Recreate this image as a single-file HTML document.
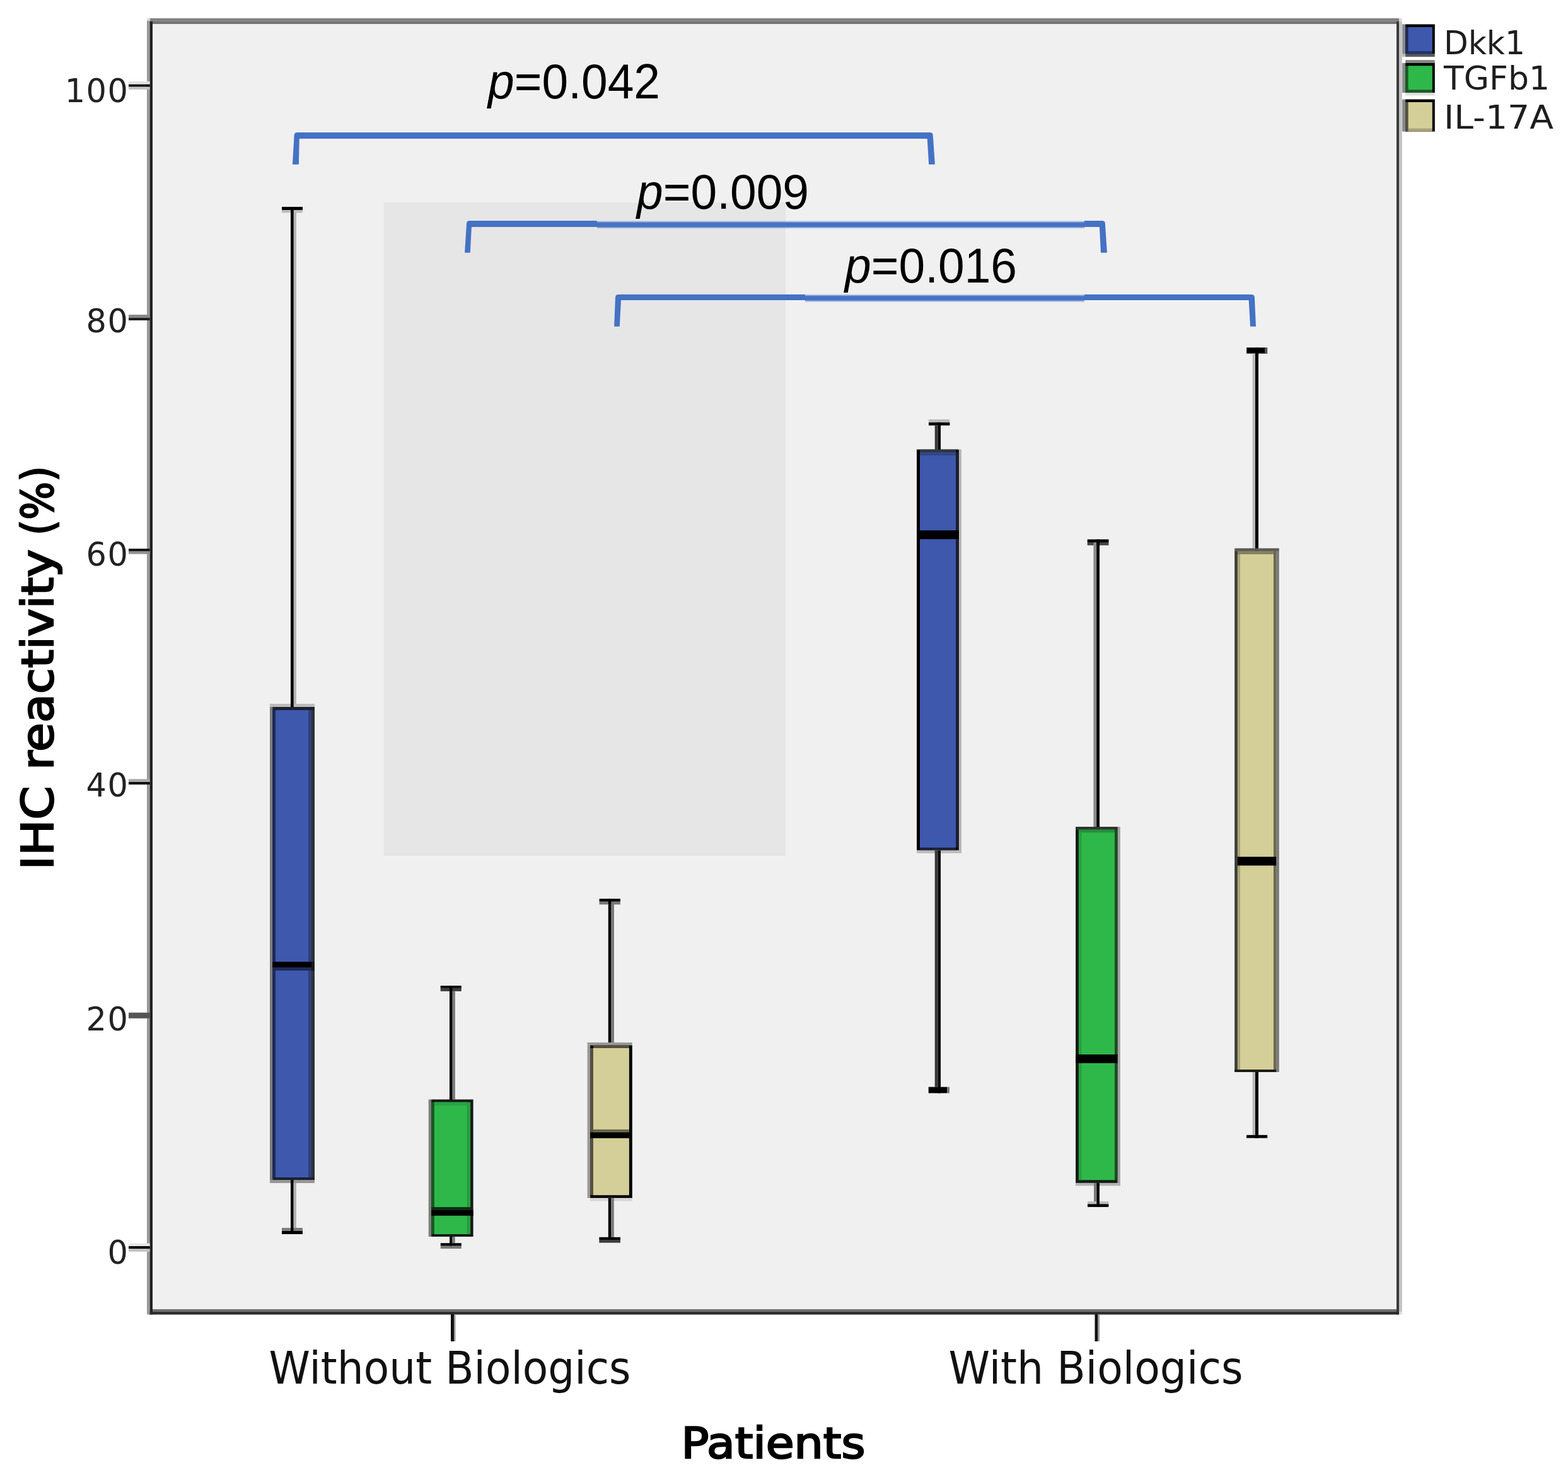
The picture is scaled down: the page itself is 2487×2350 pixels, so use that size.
<!DOCTYPE html>
<html><head><meta charset="utf-8"><title>IHC reactivity box plot</title>
<style>
html,body{margin:0;padding:0;background:#fff;}
body{width:2487px;height:2350px;overflow:hidden;}
svg{display:block;}
</style></head>
<body>
<svg width="2487" height="2350" viewBox="0 0 2487 2350">
<defs><filter id="bl" x="-1%" y="-50%" width="102%" height="200%"><feGaussianBlur stdDeviation="0 0.9"/></filter></defs>
<rect x="0" y="0" width="2487" height="2350" fill="#ffffff"/>
<rect x="242.0" y="38.0" width="1973.0" height="2038.0" fill="#f0f0f0"/>
<rect x="609.0" y="321.0" width="637.0" height="1036.0" fill="#e6e6e6"/>
<rect x="237.6" y="29.0" width="1981.4" height="4.8" fill="#828282"/>
<rect x="237.6" y="33.8" width="1981.4" height="4.2" fill="#747474"/>
<rect x="233.0" y="29.0" width="4.6" height="4.8" fill="#dcdcdc"/>
<rect x="2219.0" y="29.0" width="4.8" height="4.8" fill="#dcdcdc"/>
<rect x="233.0" y="33.0" width="4.6" height="2051.4" fill="#9a9a9a"/>
<rect x="237.6" y="33.8" width="4.4" height="2050.6" fill="#222222"/>
<rect x="2215.0" y="33.8" width="4.0" height="2050.6" fill="#3a3a3a"/>
<rect x="2219.0" y="33.8" width="4.8" height="2046.2" fill="#c2c2c2"/>
<rect x="2219.0" y="2080.0" width="4.8" height="4.4" fill="#dadada"/>
<rect x="242.0" y="2076.0" width="1973.0" height="4.1" fill="#707070"/>
<rect x="237.6" y="2080.1" width="1981.4" height="4.4" fill="#2a2a2a"/>
<rect x="204.0" y="129.0" width="33.6" height="4.8" fill="#e2e2e2"/>
<rect x="204.0" y="133.8" width="33.6" height="3.9" fill="#000"/>
<rect x="204.0" y="137.7" width="33.6" height="4.3" fill="#c4c4c4"/>
<rect x="204.0" y="499.0" width="33.6" height="5.0" fill="#888888"/>
<rect x="204.0" y="504.0" width="33.6" height="4.0" fill="#1e1e1e"/>
<rect x="204.0" y="870.0" width="33.6" height="4.0" fill="#161616"/>
<rect x="204.0" y="874.0" width="33.6" height="4.5" fill="#909090"/>
<rect x="204.0" y="1235.3" width="33.6" height="4.7" fill="#aaaaaa"/>
<rect x="204.0" y="1240.0" width="33.6" height="4.0" fill="#080808"/>
<rect x="204.0" y="1605.7" width="33.6" height="9.1" fill="#555555"/>
<rect x="204.0" y="1971.5" width="33.6" height="4.5" fill="#e6e6e6"/>
<rect x="204.0" y="1976.0" width="33.6" height="4.3" fill="#000"/>
<rect x="204.0" y="1980.3" width="33.6" height="4.4" fill="#c2c2c2"/>
<rect x="715.0" y="2084.0" width="5.0" height="43.0" fill="#111111"/>
<rect x="720.0" y="2084.0" width="2.5" height="43.0" fill="#9a9a9a"/>
<rect x="1736.5" y="2084.0" width="5.0" height="43.0" fill="#111111"/>
<rect x="1741.5" y="2084.0" width="2.5" height="43.0" fill="#9a9a9a"/>
<rect x="428.0" y="1116.0" width="71.0" height="5.0" fill="#bcbcbc"/>
<rect x="465.7" y="337.0" width="4.3" height="779.0" fill="#b5b5b5"/>
<rect x="447.0" y="333.0" width="33.0" height="4.4" fill="#bdbdbd"/>
<rect x="461.0" y="333.0" width="4.7" height="788.0" fill="#000"/>
<rect x="447.0" y="328.0" width="33.0" height="5.0" fill="#000"/>
<rect x="428.0" y="1121.0" width="4.2" height="750.0" fill="#7c7c7c"/>
<rect x="432.2" y="1121.0" width="66.8" height="750.0" fill="#1b2030"/>
<rect x="432.2" y="1126.0" width="4.8" height="741.0" fill="#1e2a5a"/>
<rect x="437.0" y="1126.0" width="52.0" height="741.0" fill="#3e58ad"/>
<rect x="489.0" y="1126.0" width="5.0" height="741.0" fill="#2e4080"/>
<rect x="494.0" y="1126.0" width="4.7" height="741.0" fill="#303236"/>
<rect x="432.2" y="1525.0" width="61.8" height="9.0" fill="#000"/>
<rect x="432.2" y="1534.0" width="61.8" height="5.0" fill="#1e2a5a"/>
<rect x="494.0" y="1525.0" width="4.7" height="14.0" fill="#1a1a1e"/>
<rect x="428.0" y="1871.0" width="71.0" height="5.0" fill="#969696"/>
<rect x="465.5" y="1876.0" width="4.5" height="71.0" fill="#b3b3b3"/>
<rect x="447.0" y="1947.0" width="33.0" height="5.0" fill="#7e7e7e"/>
<rect x="461.0" y="1871.0" width="4.5" height="86.0" fill="#000"/>
<rect x="447.0" y="1952.0" width="33.0" height="5.0" fill="#000"/>
<rect x="717.5" y="1571.8" width="4.4" height="171.6" fill="#7a7a7a"/>
<rect x="713.0" y="1563.0" width="4.5" height="184.0" fill="#000"/>
<rect x="698.7" y="1566.8" width="33.1" height="5.0" fill="#3c3c3c"/>
<rect x="698.7" y="1563.0" width="33.1" height="3.8" fill="#000"/>
<rect x="713.0" y="1563.0" width="4.5" height="8.8" fill="#000"/>
<rect x="679.7" y="1743.4" width="4.4" height="217.6" fill="#808080"/>
<rect x="684.1" y="1743.4" width="66.5" height="217.6" fill="#161a18"/>
<rect x="684.1" y="1747.7" width="4.8" height="209.3" fill="#165a24"/>
<rect x="688.9" y="1747.7" width="52.3" height="209.3" fill="#2fb84a"/>
<rect x="688.9" y="1747.7" width="52.3" height="5.6" fill="#2aa443"/>
<rect x="741.2" y="1747.7" width="5.0" height="209.3" fill="#28a040"/>
<rect x="684.1" y="1914.1" width="62.1" height="4.8" fill="#0c2d14"/>
<rect x="684.1" y="1918.9" width="66.5" height="8.8" fill="#000"/>
<rect x="716.9" y="1961.0" width="4.8" height="10.2" fill="#7a7a7a"/>
<rect x="713.2" y="1961.0" width="3.7" height="14.7" fill="#000"/>
<rect x="698.8" y="1971.2" width="33.0" height="4.5" fill="#000"/>
<rect x="698.8" y="1975.7" width="33.0" height="4.3" fill="#7a7a7a"/>
<rect x="969.3" y="1429.6" width="4.7" height="223.4" fill="#7a7a7a"/>
<rect x="964.8" y="1425.1" width="4.5" height="232.4" fill="#000"/>
<rect x="950.6" y="1429.6" width="33.3" height="4.7" fill="#777777"/>
<rect x="950.6" y="1425.1" width="33.3" height="4.5" fill="#000"/>
<rect x="964.8" y="1425.1" width="4.5" height="9.2" fill="#000"/>
<rect x="931.6" y="1653.0" width="71.2" height="4.5" fill="#999999"/>
<rect x="931.6" y="1657.5" width="4.5" height="242.2" fill="#999999"/>
<rect x="936.1" y="1657.5" width="66.7" height="242.2" fill="#000"/>
<rect x="940.9" y="1657.5" width="57.0" height="4.5" fill="#545040"/>
<rect x="936.1" y="1662.0" width="4.8" height="233.2" fill="#555040"/>
<rect x="940.9" y="1662.0" width="57.0" height="233.2" fill="#d4cf98"/>
<rect x="940.9" y="1790.9" width="57.0" height="4.5" fill="#69664a"/>
<rect x="936.1" y="1795.4" width="64.5" height="9.4" fill="#000"/>
<rect x="936.1" y="1900.8" width="66.7" height="3.5" fill="#d5d5d5"/>
<rect x="969.0" y="1899.7" width="4.8" height="62.1" fill="#7a7a7a"/>
<rect x="964.8" y="1899.7" width="4.2" height="66.4" fill="#000"/>
<rect x="950.4" y="1961.8" width="33.6" height="4.3" fill="#000"/>
<rect x="950.4" y="1966.1" width="33.6" height="4.5" fill="#3a3a3a"/>
<rect x="1473.0" y="665.0" width="33.4" height="4.8" fill="#bbbbbb"/>
<rect x="1473.0" y="669.8" width="33.4" height="4.8" fill="#000"/>
<rect x="1482.7" y="674.6" width="4.9" height="38.1" fill="#3a3a3a"/>
<rect x="1487.6" y="669.8" width="4.4" height="47.0" fill="#000"/>
<rect x="1520.8" y="712.7" width="4.2" height="640.3" fill="#b8b8b8"/>
<rect x="1454.0" y="712.7" width="66.8" height="635.8" fill="#000"/>
<rect x="1459.0" y="712.7" width="57.0" height="4.1" fill="#33363a"/>
<rect x="1459.0" y="716.8" width="57.0" height="5.1" fill="#324785"/>
<rect x="1459.0" y="721.9" width="57.0" height="622.1" fill="#3e58ad"/>
<rect x="1516.0" y="716.8" width="4.8" height="627.2" fill="#1c1f2e"/>
<rect x="1454.0" y="841.0" width="66.8" height="14.0" fill="#000"/>
<rect x="1459.0" y="1344.0" width="57.0" height="4.5" fill="#1c2136"/>
<rect x="1454.0" y="1348.5" width="66.8" height="4.5" fill="#bdbdbd"/>
<rect x="1482.7" y="1348.5" width="4.9" height="375.1" fill="#3a3a3a"/>
<rect x="1487.6" y="1348.5" width="4.4" height="384.9" fill="#000"/>
<rect x="1472.7" y="1723.6" width="29.4" height="9.8" fill="#000"/>
<rect x="1502.1" y="1723.6" width="3.9" height="9.8" fill="#777777"/>
<rect x="1724.7" y="855.3" width="33.8" height="4.7" fill="#000"/>
<rect x="1724.7" y="860.0" width="33.8" height="4.7" fill="#444444"/>
<rect x="1734.4" y="860.0" width="4.8" height="451.1" fill="#8a8a8a"/>
<rect x="1739.2" y="855.3" width="4.8" height="460.3" fill="#000"/>
<rect x="1772.5" y="1311.1" width="4.3" height="568.9" fill="#a0a0a0"/>
<rect x="1706.1" y="1311.1" width="66.4" height="564.8" fill="#141a16"/>
<rect x="1706.1" y="1311.1" width="66.4" height="4.5" fill="#2e3530"/>
<rect x="1710.9" y="1315.6" width="57.1" height="555.6" fill="#2fb84a"/>
<rect x="1710.9" y="1315.6" width="57.1" height="4.5" fill="#25903a"/>
<rect x="1710.9" y="1320.1" width="4.7" height="551.1" fill="#29a040"/>
<rect x="1768.0" y="1315.6" width="4.5" height="555.6" fill="#1a4a22"/>
<rect x="1706.1" y="1672.1" width="66.4" height="13.7" fill="#000"/>
<rect x="1706.1" y="1875.9" width="70.7" height="4.4" fill="#b4b4b4"/>
<rect x="1735.0" y="1875.9" width="4.4" height="33.4" fill="#7a7a7a"/>
<rect x="1725.0" y="1905.0" width="33.4" height="4.3" fill="#bdbdbd"/>
<rect x="1739.4" y="1875.9" width="4.5" height="38.0" fill="#000"/>
<rect x="1725.0" y="1909.3" width="33.4" height="4.6" fill="#000"/>
<rect x="1977.2" y="551.1" width="32.9" height="9.5" fill="#000"/>
<rect x="2006.0" y="551.1" width="4.1" height="9.5" fill="#555555"/>
<rect x="1986.6" y="560.6" width="4.4" height="308.8" fill="#b8b8b8"/>
<rect x="1991.0" y="551.1" width="5.0" height="322.8" fill="#000"/>
<rect x="1958.2" y="869.4" width="70.6" height="4.5" fill="#5a5a55"/>
<rect x="1958.2" y="873.9" width="66.0" height="826.1" fill="#3a3c36"/>
<rect x="1962.7" y="873.9" width="57.5" height="4.8" fill="#858160"/>
<rect x="1962.7" y="878.7" width="4.3" height="817.3" fill="#a8a47a"/>
<rect x="1967.0" y="878.7" width="53.2" height="817.3" fill="#d4cf98"/>
<rect x="2020.2" y="873.9" width="4.0" height="822.1" fill="#6b6a4a"/>
<rect x="2024.2" y="873.9" width="4.6" height="826.1" fill="#7a7a7a"/>
<rect x="1962.7" y="1358.6" width="61.5" height="13.9" fill="#000"/>
<rect x="1958.2" y="1696.0" width="66.0" height="4.0" fill="#1c1c18"/>
<rect x="1986.6" y="1700.0" width="4.4" height="99.8" fill="#b8b8b8"/>
<rect x="1991.0" y="1700.0" width="5.0" height="104.6" fill="#000"/>
<rect x="1977.1" y="1799.8" width="33.1" height="4.8" fill="#000"/>
<path d="M463.9 260.7 L466.6 215.0 Q466.6 210.0 471.6 210.0 L478.8 210.0 L478.8 219.9 L474.8 219.9 L473.9 260.7 Z" fill="#4472c4"/>
<path d="M1482.9 260.7 L1479.8 215.0 Q1479.8 210.0 1474.8 210.0 L1466.7 210.0 L1466.7 219.9 L1470.7 219.9 L1473.2 260.7 Z" fill="#4472c4"/>
<rect x="474" y="210" width="997.5" height="9.9" fill="#4472c4"/>
<path d="M737.1 400.8 L740.0 355.0 Q740.0 350.0 745.0 350.0 L751.9 350.0 L751.9 359.9 L747.9 359.9 L745.8 400.8 Z" fill="#4472c4"/>
<path d="M1755.9 400.8 L1752.9 355.0 Q1752.9 350.0 1747.9 350.0 L1739.9 350.0 L1739.9 359.9 L1743.9 359.9 L1746.0 400.8 Z" fill="#4472c4"/>
<rect x="747" y="350" width="200" height="9.9" fill="#4472c4"/>
<rect x="947" y="351.7" width="773" height="9.3" fill="#4472c4" filter="url(#bl)"/>
<rect x="1719.8" y="350" width="25" height="9.9" fill="#4472c4"/>
<path d="M974.1 517.8 L976.0 471.9 Q976.0 466.9 981.0 466.9 L989.0 466.9 L989.0 476.0 L985.0 476.0 L982.8 517.8 Z" fill="#4472c4"/>
<path d="M1992.0 517.8 L1989.9 471.9 Q1989.9 466.9 1984.9 466.9 L1976.7 466.9 L1976.7 476.0 L1980.7 476.0 L1983.0 517.8 Z" fill="#4472c4"/>
<rect x="984" y="466.9" width="293" height="9.1" fill="#4472c4"/>
<rect x="1277" y="468.2" width="443" height="9.2" fill="#4472c4" filter="url(#bl)"/>
<rect x="1719.9" y="466.9" width="262" height="9.1" fill="#4472c4"/>
<rect x="2224.2" y="38.5" width="4.9" height="47.2" fill="#888"/>
<rect x="2229.1" y="38.5" width="46.7" height="47.2" fill="#000"/>
<rect x="2229.1" y="43.0" width="42.6" height="42.7" fill="#1e2a5a"/>
<rect x="2233.6" y="43.0" width="38.1" height="38.0" fill="#3e58ad"/>
<rect x="2233.6" y="81.0" width="38.1" height="4.7" fill="#253469"/>
<rect x="2229.1" y="85.7" width="46.7" height="4.4" fill="#5a5a5a"/>
<rect x="2224.2" y="85.7" width="4.9" height="4.4" fill="#b8b8b8"/>
<rect x="2229.1" y="95.2" width="46.7" height="4.7" fill="#858585"/>
<rect x="2224.2" y="99.9" width="4.9" height="47.3" fill="#888"/>
<rect x="2229.1" y="99.9" width="46.7" height="47.3" fill="#000"/>
<rect x="2229.1" y="104.4" width="42.6" height="42.8" fill="#165a24"/>
<rect x="2233.6" y="104.4" width="38.1" height="38.1" fill="#2fb84a"/>
<rect x="2233.6" y="142.5" width="38.1" height="4.7" fill="#1e5a28"/>
<rect x="2229.1" y="147.2" width="46.7" height="4.4" fill="#e0e0e0"/>
<rect x="2224.2" y="157.5" width="4.9" height="51.1" fill="#888"/>
<rect x="2229.1" y="157.5" width="46.7" height="51.1" fill="#000"/>
<rect x="2229.1" y="162.0" width="42.6" height="46.6" fill="#555040"/>
<rect x="2233.6" y="162.0" width="38.1" height="41.9" fill="#d4cf98"/>
<rect x="2233.6" y="203.9" width="38.1" height="4.7" fill="#a8a278"/>
<text x="204.5" y="161.7" text-anchor="end" style="font-family:'DejaVu Sans','Liberation Sans',sans-serif;font-size:51px;letter-spacing:1.5px" fill="#222">100</text>
<text x="204.5" y="526.7" text-anchor="end" style="font-family:'DejaVu Sans','Liberation Sans',sans-serif;font-size:51px;letter-spacing:1.5px" fill="#222">80</text>
<text x="204.5" y="897.4" text-anchor="end" style="font-family:'DejaVu Sans','Liberation Sans',sans-serif;font-size:51px;letter-spacing:1.5px" fill="#222">60</text>
<text x="204.5" y="1263.3" text-anchor="end" style="font-family:'DejaVu Sans','Liberation Sans',sans-serif;font-size:51px;letter-spacing:1.5px" fill="#222">40</text>
<text x="204.5" y="1633.7" text-anchor="end" style="font-family:'DejaVu Sans','Liberation Sans',sans-serif;font-size:51px;letter-spacing:1.5px" fill="#222">20</text>
<text x="204.5" y="2003.8" text-anchor="end" style="font-family:'DejaVu Sans','Liberation Sans',sans-serif;font-size:51px;letter-spacing:1.5px" fill="#222">0</text>
<text x="713.5" y="2194" text-anchor="middle" style="font-family:'DejaVu Sans','Liberation Sans',sans-serif;font-size:71px" fill="#111" textLength="574" lengthAdjust="spacingAndGlyphs">Without Biologics</text>
<text x="1738" y="2194.4" text-anchor="middle" style="font-family:'DejaVu Sans','Liberation Sans',sans-serif;font-size:71px" fill="#111" textLength="467" lengthAdjust="spacingAndGlyphs">With Biologics</text>
<text x="1226.4" y="2311.8" text-anchor="middle" style="font-family:'DejaVu Sans','Liberation Sans',sans-serif;font-size:67.5px" fill="#000" stroke="#000" stroke-width="2.4" textLength="292" lengthAdjust="spacingAndGlyphs">Patients</text>
<text transform="translate(83.8 1379.5) rotate(-90)" x="0" y="0" style="font-family:'DejaVu Sans','Liberation Sans',sans-serif;font-size:69px" fill="#000" stroke="#000" stroke-width="2.4" textLength="133.0" lengthAdjust="spacingAndGlyphs">IHC</text>
<text transform="translate(83.8 1221.0) rotate(-90)" x="0" y="0" style="font-family:'DejaVu Sans','Liberation Sans',sans-serif;font-size:69px" fill="#000" stroke="#000" stroke-width="2.4" textLength="350.0" lengthAdjust="spacingAndGlyphs">reactivity</text>
<text transform="translate(83.8 849.0) rotate(-90)" x="0" y="0" style="font-family:'DejaVu Sans','Liberation Sans',sans-serif;font-size:69px" fill="#000" stroke="#000" stroke-width="2.4" textLength="110.0" lengthAdjust="spacingAndGlyphs">(%)</text>
<text x="2290" y="85.8" style="font-family:'DejaVu Sans','Liberation Sans',sans-serif;font-size:52px" fill="#1e1e1e" textLength="129" lengthAdjust="spacingAndGlyphs">Dkk1</text>
<text x="2290" y="142.3" style="font-family:'DejaVu Sans','Liberation Sans',sans-serif;font-size:51px" fill="#1e1e1e" textLength="168" lengthAdjust="spacingAndGlyphs">TGFb1</text>
<text x="2290" y="204" style="font-family:'DejaVu Sans','Liberation Sans',sans-serif;font-size:51px" fill="#1e1e1e" textLength="174" lengthAdjust="spacingAndGlyphs">IL-17A</text>
<text x="774.0" y="155.7" style="font-family:'Liberation Sans',Arial,sans-serif;font-size:78px" fill="#000" textLength="273" lengthAdjust="spacingAndGlyphs"><tspan font-style="italic">p</tspan>=0.042</text>
<text x="1010.0" y="330.9" style="font-family:'Liberation Sans',Arial,sans-serif;font-size:78px" fill="#000" textLength="273" lengthAdjust="spacingAndGlyphs"><tspan font-style="italic">p</tspan>=0.009</text>
<text x="1340.0" y="447.6" style="font-family:'Liberation Sans',Arial,sans-serif;font-size:78px" fill="#000" textLength="273" lengthAdjust="spacingAndGlyphs"><tspan font-style="italic">p</tspan>=0.016</text>
</svg>
</body></html>
